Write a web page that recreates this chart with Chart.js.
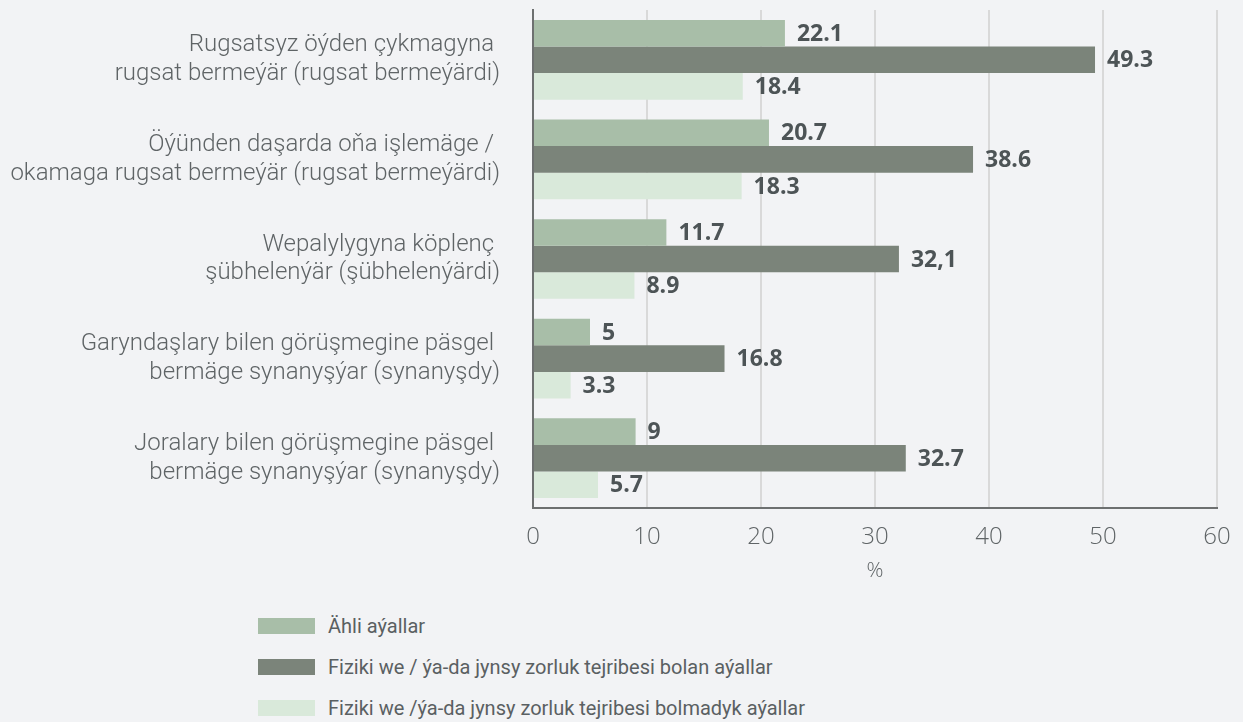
<!DOCTYPE html>
<html>
<head>
<meta charset="utf-8">
<script src="https://cdn.jsdelivr.net/npm/chart.js@4.4.1/dist/chart.umd.min.js"></script>
<style>
    body { margin: 0; background: #f2f3f5; width: 1243px; height: 722px; overflow: hidden; position: relative; }
    #wrap { position: absolute; left: 0; top: 0; width: 1243px; height: 588px; }
    #legend { position: absolute; left: 258px; top: 605px; font-family: Roboto, sans-serif; font-size: 20px; color: #5a6062; }
    .row { display: flex; align-items: center; height: 41px; }
    .box { width: 57px; height: 16px; margin-right: 13px; }
</style>
</head>
<body>
<div id="wrap"><canvas id="chart"></canvas></div>
<div id="legend"></div>
<script>
document.addEventListener("DOMContentLoaded", function () {

    const categories = [
        ["Rugsatsyz öýden çykmagyna ", "rugsat bermeýär (rugsat bermeýärdi)"],
        ["Öýünden daşarda oňa işlemäge / ", "okamaga rugsat bermeýär (rugsat bermeýärdi)"],
        ["Wepalylygyna köplenç ", "şübhelenýär (şübhelenýärdi)"],
        ["Garyndaşlary bilen görüşmegine päsgel ", "bermäge synanyşýar (synanyşdy)"],
        ["Joralary bilen görüşmegine päsgel ", "bermäge synanyşýar (synanyşdy)"]
    ];

    const seriesNames = [
        "Ähli aýallar",
        "Fiziki we / ýa-da jynsy zorluk tejribesi bolan aýallar",
        "Fiziki we /ýa-da jynsy zorluk tejribesi bolmadyk aýallar"
    ];

    const allWomen = [22.1, 20.7, 11.7, 5, 9];
    const withViolence = [49.3, 38.6, 32.1, 16.8, 32.7];
    const withoutViolence = [18.4, 18.3, 8.9, 3.3, 5.7];

    // labels as printed in the source (one uses a comma)
    const allWomenText = ["22.1", "20.7", "11.7", "5", "9"];
    const withViolenceText = ["49.3", "38.6", "32,1", "16.8", "32.7"];
    const withoutViolenceText = ["18.4", "18.3", "8.9", "3.3", "5.7"];

    const xTicks = [0, 10, 20, 30, 40, 50, 60];

    const colors = ["#a8bea8", "#7b847a", "#d9e9da"];
    const textColor = "#5f6466";

    const valueLabels = {
        id: "valueLabels",
        afterDatasetsDraw(chart) {
            const ctx = chart.ctx;
            ctx.save();
            ctx.font = "bold 23px 'Open Sans', sans-serif";
            ctx.fillStyle = "#4d5456";
            ctx.textAlign = "left";
            ctx.textBaseline = "middle";
            chart.data.datasets.forEach((ds, i) => {
                chart.getDatasetMeta(i).data.forEach((bar, j) => {
                    ctx.fillText(ds.valueText[j], bar.x + 12, bar.y + 1);
                });
            });
            ctx.restore();
        }
    };

    new Chart(document.getElementById("chart"), {
        type: "bar",
        data: {
            labels: categories,
            datasets: [
                { label: seriesNames[0], data: allWomen, valueText: allWomenText, backgroundColor: colors[0] },
                { label: seriesNames[1], data: withViolence, valueText: withViolenceText, backgroundColor: colors[1] },
                { label: seriesNames[2], data: withoutViolence, valueText: withoutViolenceText, backgroundColor: colors[2] }
            ]
        },
        options: {
            indexAxis: "y",
            responsive: true,
            maintainAspectRatio: false,
            animation: false,
            categoryPercentage: 0.8,
            barPercentage: 1.0,
            layout: { padding: { top: 10, right: 26, bottom: 0, left: 0 } },
            plugins: {
                legend: { display: false },
                tooltip: { enabled: false }
            },
            scales: {
                x: {
                    min: 0,
                    max: 60,
                    afterBuildTicks: function (scale) {
                        scale.ticks = xTicks.map(v => ({ value: v }));
                    },
                    afterFit: function (scale) {
                        scale.paddingLeft = 0;
                        scale.paddingRight = 0;
                    },
                    grid: { color: "#d9d9d9", lineWidth: 2, drawTicks: false },
                    border: { color: "#6d7070", width: 2 },
                    ticks: {
                        padding: 15,
                        color: textColor,
                        font: { family: "'Open Sans', sans-serif", size: 24, weight: 300 }
                    },
                    title: {
                        display: true,
                        text: "%",
                        color: textColor,
                        padding: { top: -8, bottom: 4 },
                        font: { family: "'Open Sans', sans-serif", size: 21, weight: 300 }
                    }
                },
                y: {
                    afterFit: function (scale) {
                        scale.width = 533;
                        scale.paddingTop = 0;
                        scale.paddingBottom = 0;
                    },
                    grid: { display: false, drawTicks: false },
                    border: { color: "#6d7070", width: 2 },
                    ticks: {
                        padding: 33,
                        color: textColor,
                        font: { family: "Roboto, sans-serif", size: 24, weight: 300, lineHeight: 1.2 }
                    }
                }
            }
        },
        plugins: [valueLabels]
    });

    const legend = document.getElementById("legend");
    seriesNames.forEach((name, i) => {
        const row = document.createElement("div");
        row.className = "row";
        row.innerHTML = '<span class="box" style="background:' + colors[i] + '"></span><span>' + name + "</span>";
        legend.appendChild(row);
    });

});
</script>
</body>
</html>
